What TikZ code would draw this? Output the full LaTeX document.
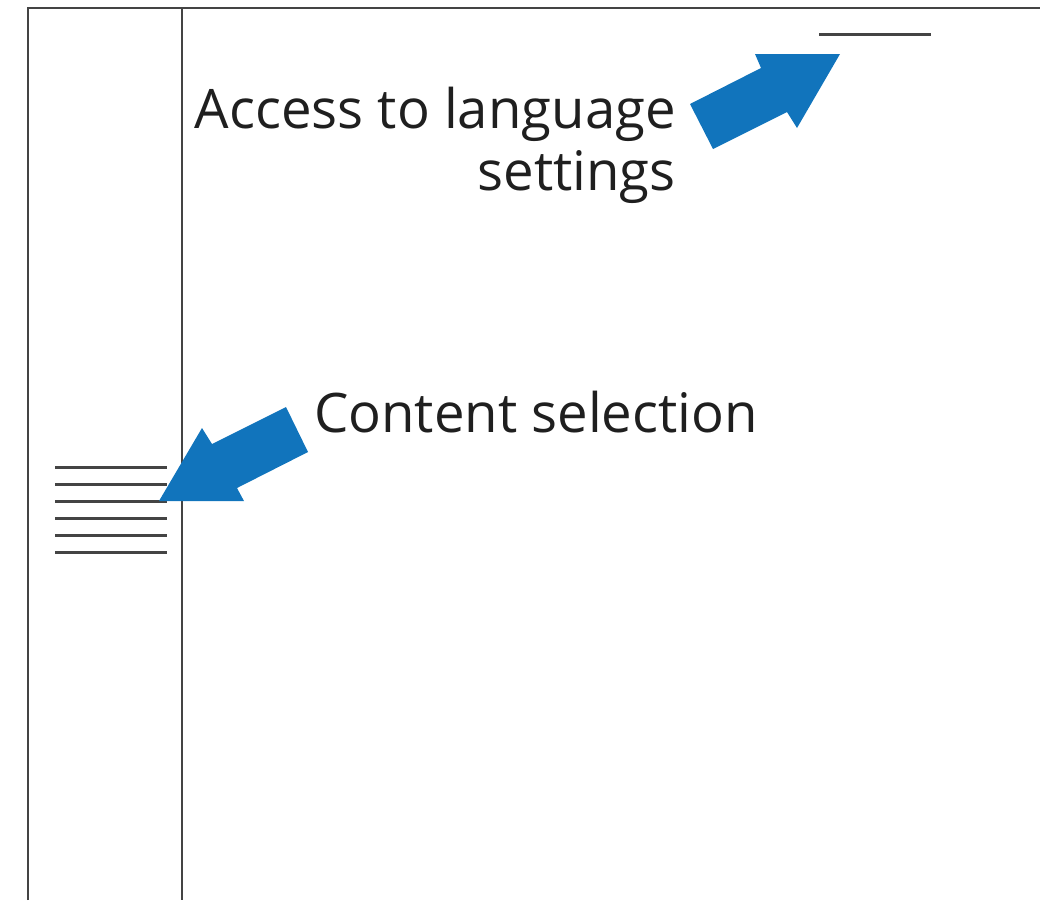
\documentclass[tikz,border=0pt]{standalone}
\usepackage{fontspec}
\setmainfont{Open Sans}
\usetikzlibrary{positioning}
\definecolor{arrowblue}{RGB}{17,116,188}
\definecolor{framegray}{RGB}{68,68,68}
\tikzset{
  frameline/.style={draw=framegray, line width=2.5pt},
  menuline/.style={draw=framegray, line width=3pt},
  blockarrow/.style={fill=arrowblue, draw=none},
  label/.style={font=\fontsize{54.5}{62}\selectfont, text=black!88, inner sep=0pt, align=right}
}

\begin{document}
\begin{tikzpicture}[x=1pt,y=-1pt]
  \useasboundingbox (0,0) rectangle (1040,900);
  % page frame and side panel
  \draw[frameline] (28,900) -- (28,8) -- (1040,8);
  \draw[frameline] (182,8) -- (182,900);
  % language switch
  \coordinate (LangStart) at (819,34);
  \coordinate (LangEnd) at (931,34);
  \draw[menuline] (LangStart) -- (LangEnd);
  % content menu lines
  \foreach \row in {0,...,5}
    \draw[menuline] (55,467+17*\row) -- (167,467+17*\row);
  %
  \node[label, anchor=base east] (LangLabel) at (676,190) {Access to language\\settings};
  \node[label, anchor=base west] (ContentLabel) at (314,432) {Content selection};
  %
  \fill[blockarrow] (840,54) -- (755,54) -- (761,68) -- (690,104) -- (713,149) -- (787,112) -- (797,128) -- cycle;
  \fill[blockarrow] (159,501) -- (244,501) -- (237,488) -- (308,452) -- (286,407) -- (212,444) -- (202,428) -- cycle;
\end{tikzpicture}
\end{document}
